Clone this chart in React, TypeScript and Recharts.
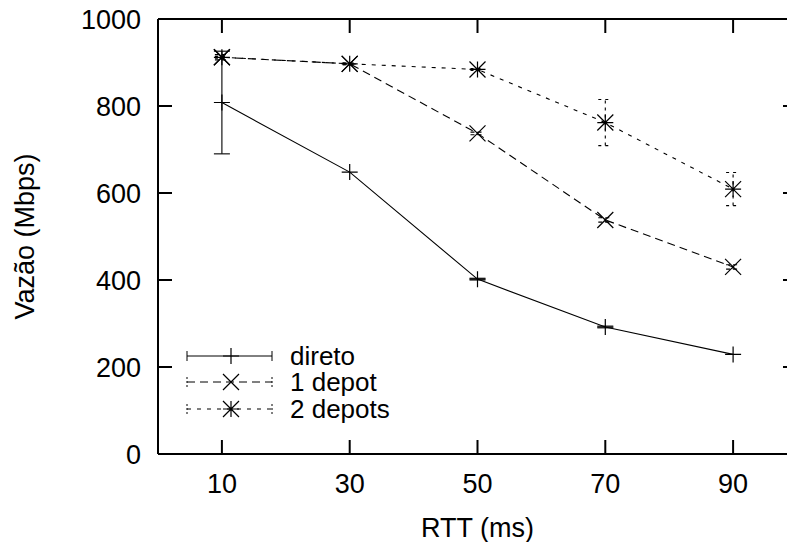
import React from 'react'
import { LineChart, Line, XAxis, YAxis, ErrorBar, Label, ReferenceLine } from 'recharts'

const rtt = [10, 30, 50, 70, 90]
const direto = [808, 648, 402, 292, 229]
const diretoErr = [118, 0, 2, 2, 0]
const depot1 = [912, 897, 737, 538, 430]
const depot1Err = [6, 2, 3, 5, 5]
const depot2 = [912, 897, 884, 762, 609]
const depot2Err = [2, 2, 2, 53, 38]
const xTicks = [10, 30, 50, 70, 90]
const yTicks = [0, 200, 400, 600, 800, 1000]
const seriesNames = ['direto', '1 depot', '2 depots']

const data = rtt.map((x, i) => ({
  rtt: x,
  direto: direto[i],
  diretoErr: diretoErr[i],
  depot1: depot1[i],
  depot1Err: depot1Err[i],
  depot2: depot2[i],
  depot2Err: depot2Err[i],
}))

const FONT = '"Liberation Sans", Arial, Helvetica, sans-serif'
const TICK = 14

// plot box: 810 wide chart, 158 left axis, 13 right; 542 high, 19 top, 88 bottom
const PLOT_W = 810 - 158 - 13
const PLOT_H = 542 - 19 - 88
const X_MAX = 100
const Y_MAX = 1000
const tickDx = (TICK * X_MAX) / PLOT_W
const tickDy = (TICK * Y_MAX) / PLOT_H

const styles = [
  { kind: 'plus', dash: undefined },
  { kind: 'cross', dash: '8 5' },
  { kind: 'star', dash: '4 6' },
]

function Marker({ kind, cx, cy, s = 8 }: { kind: string; cx: number; cy: number; s?: number }) {
  const plus = `M${cx - s},${cy}H${cx + s}M${cx},${cy - s}V${cy + s}`
  const cross = `M${cx - s},${cy - s}L${cx + s},${cy + s}M${cx - s},${cy + s}L${cx + s},${cy - s}`
  const d = kind === 'plus' ? plus : kind === 'cross' ? cross : plus + cross
  return <path d={d} stroke="#000" strokeWidth={1.2} fill="none" />
}

function LegendBox() {
  return (
    <div style={{ position: 'absolute', left: 185, top: 343, fontFamily: FONT, fontSize: 26, color: '#000' }}>
      {seriesNames.map((name, i) => (
        <div key={name} style={{ display: 'flex', alignItems: 'center', height: 26.3 }}>
          <svg width={90} height={20} style={{ display: 'block' }}>
            <line x1={2} y1={10} x2={87} y2={10} stroke="#000" strokeWidth={1} strokeDasharray={styles[i].dash} />
            <line x1={2} y1={5} x2={2} y2={15} stroke="#000" strokeWidth={1} strokeDasharray={i ? '2 2' : undefined} />
            <line x1={87} y1={5} x2={87} y2={15} stroke="#000" strokeWidth={1} strokeDasharray={i ? '2 2' : undefined} />
            <Marker kind={styles[i].kind} cx={46} cy={10} />
          </svg>
          <span style={{ marginLeft: 15, lineHeight: '26px' }}>{name}</span>
        </div>
      ))}
    </div>
  )
}

const textProps = { fill: '#000', fontSize: 27, fontFamily: FONT }

const bottomTick = (p: any) => (
  <g>
    <line x1={p.x} x2={p.x} y1={p.y - 20} y2={p.y - 20 - TICK} stroke="#000" strokeWidth={2} />
    <text x={p.x} y={p.y} dy="0.71em" textAnchor="middle" {...textProps}>{p.payload.value}</text>
  </g>
)
const leftTick = (p: any) => (
  <g>
    <text x={p.x} y={p.y} dy="0.355em" textAnchor="end" {...textProps}>{p.payload.value}</text>
  </g>
)

export default function App() {
  return (
    <div style={{ position: 'fixed', left: 0, top: 0, width: 787, height: 542, overflow: 'hidden', background: '#fff' }}>
      <LineChart width={810} height={542} data={data} margin={{ top: 0, right: 0, bottom: 0, left: 0 }}>
        <XAxis
          dataKey="rtt"
          type="number"
          domain={[0, X_MAX]}
          ticks={xTicks}
          height={88}
          stroke="#000"
          axisLine={{ strokeWidth: 2 }}
          tickLine={false}
          tickSize={0}
          tickMargin={20}
          tick={bottomTick}
        >
          <Label value="RTT (ms)" position="insideBottom" offset={5} style={{ fill: '#000', fontSize: 27, fontFamily: FONT }} />
        </XAxis>
        <XAxis
          xAxisId="top"
          orientation="top"
          dataKey="rtt"
          type="number"
          domain={[0, X_MAX]}
          ticks={xTicks}
          height={19}
          stroke="#000"
          axisLine={{ strokeWidth: 2 }}
          tickLine={false}
          tick={false}
        />
        <YAxis
          type="number"
          domain={[0, Y_MAX]}
          ticks={yTicks}
          width={158}
          stroke="#000"
          axisLine={{ strokeWidth: 2 }}
          tickLine={false}
          tickSize={0}
          tickMargin={17}
          tick={leftTick}
        >
          <Label
            value="Vazão (Mbps)"
            angle={-90}
            position="insideLeft"
            offset={24}
            style={{ textAnchor: 'middle', fill: '#000', fontSize: 27, fontFamily: FONT }}
          />
        </YAxis>
        <YAxis
          yAxisId="right"
          orientation="right"
          type="number"
          domain={[0, Y_MAX]}
          width={13}
          axisLine={false}
          tickLine={false}
          tick={false}
        />

        {/* inward tick marks on left, right and top borders */}
        {yTicks.map((v) => (
          <ReferenceLine key={`l${v}`} segment={[{ x: 0, y: v }, { x: tickDx, y: v }]} stroke="#000" strokeWidth={2} ifOverflow="visible" />
        ))}
        {yTicks.map((v) => (
          <ReferenceLine key={`r${v}`} segment={[{ x: X_MAX - tickDx, y: v }, { x: X_MAX, y: v }]} stroke="#000" strokeWidth={2} ifOverflow="visible" />
        ))}
        {xTicks.map((t) => (
          <ReferenceLine key={`t${t}`} segment={[{ x: t, y: Y_MAX - tickDy }, { x: t, y: Y_MAX }]} stroke="#000" strokeWidth={2} ifOverflow="visible" />
        ))}

        <Line
          dataKey="direto"
          name="direto"
          type="linear"
          stroke="#000"
          strokeWidth={1.1}
          isAnimationActive={false}
          activeDot={false}
          dot={(p: any) => <Marker key={`d-${p.index}`} kind="plus" cx={p.cx} cy={p.cy} />}
        >
          <ErrorBar dataKey="diretoErr" direction="y" width={8} stroke="#000" strokeWidth={1.1} isAnimationActive={false} />
        </Line>
        <Line
          dataKey="depot1"
          name="1 depot"
          type="linear"
          stroke="#000"
          strokeWidth={1.1}
          strokeDasharray="8 5"
          isAnimationActive={false}
          activeDot={false}
          dot={(p: any) => <Marker key={`a-${p.index}`} kind="cross" cx={p.cx} cy={p.cy} />}
        >
          <ErrorBar dataKey="depot1Err" direction="y" width={7} stroke="#000" strokeWidth={1.1} strokeDasharray="4 3" isAnimationActive={false} />
        </Line>
        <Line
          dataKey="depot2"
          name="2 depots"
          type="linear"
          stroke="#000"
          strokeWidth={1.1}
          strokeDasharray="4 6"
          isAnimationActive={false}
          activeDot={false}
          dot={(p: any) => <Marker key={`b-${p.index}`} kind="star" cx={p.cx} cy={p.cy} />}
        >
          <ErrorBar dataKey="depot2Err" direction="y" width={7} stroke="#000" strokeWidth={1.1} strokeDasharray="3 4" isAnimationActive={false} />
        </Line>
      </LineChart>
      <LegendBox />
    </div>
  )
}
